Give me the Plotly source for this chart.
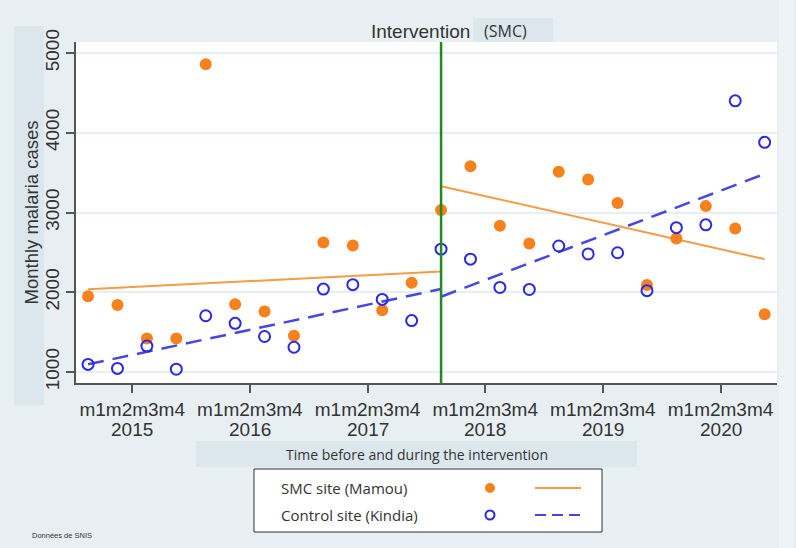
import plotly.graph_objects as go

# ---------------- data ----------------
years = ["2015", "2016", "2017", "2018", "2019", "2020"]
sub_label = "m1m2m3m4"
periods = list(range(24))
smc_cases = [1950, 1840, 1420, 1420, 4860, 1850, 1760, 1455, 2625, 2585, 1775, 2120,
             3030, 3580, 2835, 2610, 3510, 3415, 3120, 2090, 2675, 3080, 2800, 1725]
control_cases = [1095, 1045, 1325, 1035, 1705, 1610, 1445, 1310, 2040, 2095, 1910, 1645,
                 2540, 2415, 2060, 2035, 2580, 2480, 2495, 2020, 2810, 2845, 4400, 3880]
intervention_period = 12
fit_pre_x = [0, 12]
fit_post_x = [12, 23]
smc_fit_pre = [2037, 2260]
smc_fit_post = [3330, 2415]
control_fit_pre = [1096, 2040]
control_fit_post = [1944, 3483]
y_ticks = [1000, 2000, 3000, 4000, 5000]

series_names = ["SMC site (Mamou)", "Control site (Kindia)"]

# ---------------- style ----------------
ORANGE = "#f7811c"
ORANGE_LINE = "#f59c44"
BLUE = "#2a2ae6"
BLUE_LINE = "#4646e8"
GREEN = "#1f8a1f"
BG = "#e8eff2"
BAND = "#dbe7ed"
AXIS = "#555555"
TXT = "#333333"
FONT = "Liberation Sans, Arial, sans-serif"
NARROW = "Open Sans, Noto Sans, sans-serif"

W, H = 796, 548
L, R, T, B = 76, 19, 42, 165
PW, PH = W - L - R, H - T - B


def px(x):
    return (x - L) / PW


def py(y):
    return (H - B - y) / PH


fig = go.Figure()

# fitted lines
fig.add_trace(go.Scatter(x=fit_pre_x, y=smc_fit_pre, mode="lines",
                         line=dict(color=ORANGE_LINE, width=2), showlegend=False, hoverinfo="skip"))
fig.add_trace(go.Scatter(x=fit_post_x, y=smc_fit_post, mode="lines",
                         line=dict(color=ORANGE_LINE, width=2), showlegend=False, hoverinfo="skip"))
fig.add_trace(go.Scatter(x=fit_pre_x, y=control_fit_pre, mode="lines",
                         line=dict(color=BLUE_LINE, width=2.5, dash="16px,9px"), showlegend=False, hoverinfo="skip"))
fig.add_trace(go.Scatter(x=fit_post_x, y=control_fit_post, mode="lines",
                         line=dict(color=BLUE_LINE, width=2.5, dash="16px,9px"), showlegend=False, hoverinfo="skip"))

# points
fig.add_trace(go.Scatter(x=periods, y=smc_cases, mode="markers", name=series_names[0],
                         marker=dict(color=ORANGE, size=12, line=dict(width=0)), showlegend=False))
fig.add_trace(go.Scatter(x=periods, y=control_cases, mode="markers", name=series_names[1],
                         marker=dict(color="rgba(0,0,0,0)", size=11, line=dict(color=BLUE, width=2)),
                         showlegend=False))

shapes = []
# right lighter strip
shapes.append(dict(type="rect", xref="paper", yref="paper", x0=px(779), x1=px(793), y0=py(548), y1=py(0),
                   fillcolor="#eef3f5", line=dict(width=0), layer="below"))
# y-title band
shapes.append(dict(type="rect", xref="paper", yref="paper", x0=px(14), x1=px(44), y0=py(405), y1=py(26),
                   fillcolor=BAND, line=dict(width=0), layer="below"))
# (SMC) band
shapes.append(dict(type="rect", xref="paper", yref="paper", x0=px(473), x1=px(553), y0=py(42), y1=py(18),
                   fillcolor=BAND, line=dict(width=0), layer="below"))
# x-title band
shapes.append(dict(type="rect", xref="paper", yref="paper", x0=px(196), x1=px(637), y0=py(467), y1=py(441),
                   fillcolor=BAND, line=dict(width=0), layer="below"))
# intervention line
shapes.append(dict(type="line", xref="x", yref="paper", x0=intervention_period, x1=intervention_period,
                   y0=0, y1=1, line=dict(color=GREEN, width=2.5)))
# legend box
shapes.append(dict(type="rect", xref="paper", yref="paper", x0=px(254), x1=px(602), y0=py(532), y1=py(469),
                   fillcolor="white", line=dict(color="#333333", width=1)))
legend_rows = [488, 515]
# legend samples
shapes.append(dict(type="circle", xref="paper", yref="paper", xsizemode="pixel", ysizemode="pixel",
                   xanchor=px(490), yanchor=py(legend_rows[0]), x0=-5, x1=5, y0=-5, y1=5,
                   fillcolor=ORANGE, line=dict(width=0)))
shapes.append(dict(type="circle", xref="paper", yref="paper", xsizemode="pixel", ysizemode="pixel",
                   xanchor=px(490), yanchor=py(legend_rows[1]), x0=-4.5, x1=4.5, y0=-4.5, y1=4.5,
                   fillcolor="white", line=dict(color=BLUE, width=2)))
shapes.append(dict(type="line", xref="paper", yref="paper", x0=px(535), x1=px(581),
                   y0=py(legend_rows[0]), y1=py(legend_rows[0]), line=dict(color=ORANGE_LINE, width=2)))
shapes.append(dict(type="line", xref="paper", yref="paper", x0=px(535), x1=px(581),
                   y0=py(legend_rows[1]), y1=py(legend_rows[1]),
                   line=dict(color=BLUE_LINE, width=2, dash="11px,6px")))

annotations = []
annotations.append(dict(text="Intervention", xref="paper", yref="paper", x=px(420), y=py(31),
                        xanchor="center", yanchor="middle", showarrow=False,
                        font=dict(family=FONT, size=19, color=TXT)))
annotations.append(dict(text="(SMC)", xref="paper", yref="paper", x=px(482), y=py(31),
                        xanchor="left", yanchor="middle", showarrow=False,
                        font=dict(family=NARROW, size=16, color=TXT)))
annotations.append(dict(text="Monthly malaria cases", xref="paper", yref="paper", x=px(31), y=0.5,
                        xanchor="center", yanchor="middle", textangle=-90, showarrow=False,
                        font=dict(family=FONT, size=18.5, color=TXT)))
for i, yr in enumerate(years):
    annotations.append(dict(text=yr, xref="x", yref="paper", x=4 * i + 1.5, y=py(430),
                            xanchor="center", yanchor="middle", showarrow=False,
                            font=dict(family=FONT, size=19, color=TXT)))
annotations.append(dict(text="Time before and during the intervention", xref="paper", yref="paper",
                        x=px(417), y=py(454), xanchor="center", yanchor="middle", showarrow=False,
                        font=dict(family=NARROW, size=14, color=TXT)))
for name, row in zip(series_names, legend_rows):
    annotations.append(dict(text=name, xref="paper", yref="paper", x=px(279), y=py(row),
                            xanchor="left", yanchor="middle", showarrow=False,
                            font=dict(family=NARROW, size=15, color=TXT)))
annotations.append(dict(text="Données de SNIS", xref="paper", yref="paper", x=px(30), y=py(535),
                        xanchor="left", yanchor="middle", showarrow=False,
                        font=dict(family=FONT, size=7.5, color=TXT)))

fig.update_layout(
    width=W, height=H,
    margin=dict(l=L, r=R, t=T, b=B, pad=0),
    paper_bgcolor=BG, plot_bgcolor="white",
    shapes=shapes, annotations=annotations,
    showlegend=False,
    xaxis=dict(range=[-0.41, 23.42], tickvals=[4 * i + 1.5 for i in range(len(years))],
               ticktext=[sub_label] * len(years), ticks="outside", ticklen=8, tickwidth=1.5,
               tickcolor=AXIS, showline=True, linecolor=AXIS, linewidth=1.5, showgrid=False,
               zeroline=False, tickfont=dict(family=FONT, size=19, color=TXT)),
    yaxis=dict(range=[862, 5138], tickvals=y_ticks, tickangle=-90, ticks="outside", ticklen=8,
               tickwidth=1.5, tickcolor=AXIS, showline=True, linecolor=AXIS, linewidth=1.5,
               showgrid=True, gridcolor="#e6eff2", gridwidth=1.5, zeroline=False,
               tickfont=dict(family=FONT, size=19, color=TXT)),
)

fig.write_html("out.html", config={"displayModeBar": False},
               post_script="document.body.style.margin='0';document.body.style.padding='0';")
